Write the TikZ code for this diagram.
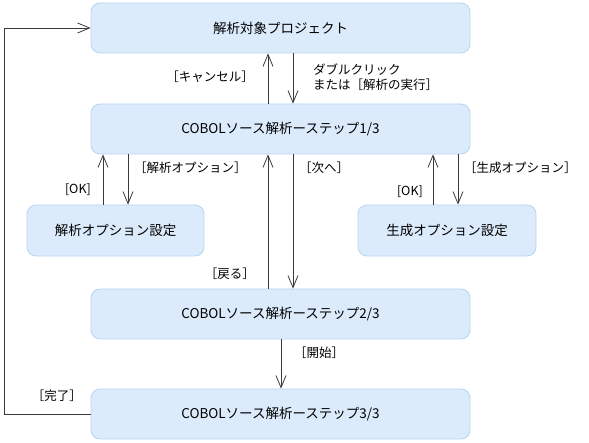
\documentclass[tikz,border=0pt]{standalone}
\usepackage{fontspec}
\setmainfont{Noto Sans CJK JP}
\usetikzlibrary{arrows.meta}
\definecolor{boxfill}{HTML}{DCEBFB}
\definecolor{boxline}{HTML}{B5D5F3}
\definecolor{ln}{HTML}{3A3A3A}
\begin{document}
\begin{tikzpicture}[x=1pt,y=-1pt,
  state/.style={draw=boxline,fill=boxfill,rounded corners=9pt,line width=0.8pt,font=\fontsize{13.5}{15}\selectfont},
  conn/.style={draw=ln,line width=0.8pt,-{Straight Barb[length=12pt,width=10pt,line width=0.8pt]}},
  lbl/.style={font=\fontsize{12.5}{15}\selectfont,inner sep=0pt,text=black}]
\useasboundingbox (0,0) rectangle (589,443);
% boxes
\node[state,minimum width=379pt,minimum height=50pt] (top) at (280.5,28) {解析対象プロジェクト};
\node[state,minimum width=379pt,minimum height=50pt] (s1) at (280.5,129) {COBOLソース解析ーステップ1/3};
\node[state,minimum width=177pt,minimum height=51pt] (ao) at (115.5,230.5) {解析オプション設定};
\node[state,minimum width=178pt,minimum height=51pt] (go) at (447,230.5) {生成オプション設定};
\node[state,minimum width=379pt,minimum height=50pt] (s2) at (280.5,314) {COBOLソース解析ーステップ2/3};
\node[state,minimum width=379pt,minimum height=50pt] (s3) at (280.5,414) {COBOLソース解析ーステップ3/3};
% connectors
\draw[conn] (s1.north -| 268,0) -- (top.south -| 268,0);
\draw[conn] (top.south -| 293,0) -- (s1.north -| 293,0);
\draw[conn] (ao.north -| 103,0) -- (s1.south -| 103,0);
\draw[conn] (s1.south -| 128,0) -- (ao.north -| 128,0);
\draw[conn] (s2.north -| 268,0) -- (s1.south -| 268,0);
\draw[conn] (s1.south -| 293,0) -- (s2.north -| 293,0);
\draw[conn] (go.north -| 433,0) -- (s1.south -| 433,0);
\draw[conn] (s1.south -| 458,0) -- (go.north -| 458,0);
\draw[conn] (s2.south -| 281,0) -- (s3.north -| 281,0);
\coordinate (c1) at (4,414);
\coordinate (c2) at (4,28);
\draw[conn] (s3.west) -- (c1) -- (c2) -- (top.west);
% labels
\node[lbl,anchor=east] (l1) at (254,77) {［キャンセル］};
\node[lbl,anchor=west,align=left] (l2) at (313,77) {ダブルクリック\\または［解析の実行］};
\node[lbl,anchor=east] (l3) at (91,190) {[OK]};
\node[lbl,anchor=west] (l4) at (134,168) {［解析オプション］};
\node[lbl,anchor=east] (l5) at (255,274) {［戻る］};
\node[lbl,anchor=west] (l6) at (299,168) {［次へ］};
\node[lbl,anchor=east] (l7) at (423,192) {[OK]};
\node[lbl,anchor=west] (l8) at (464,168) {［生成オプション］};
\node[lbl,anchor=west] (l9) at (294,353) {［開始］};
\node[lbl,anchor=east] (l10) at (82,396) {［完了］};
\end{tikzpicture}
\end{document}
